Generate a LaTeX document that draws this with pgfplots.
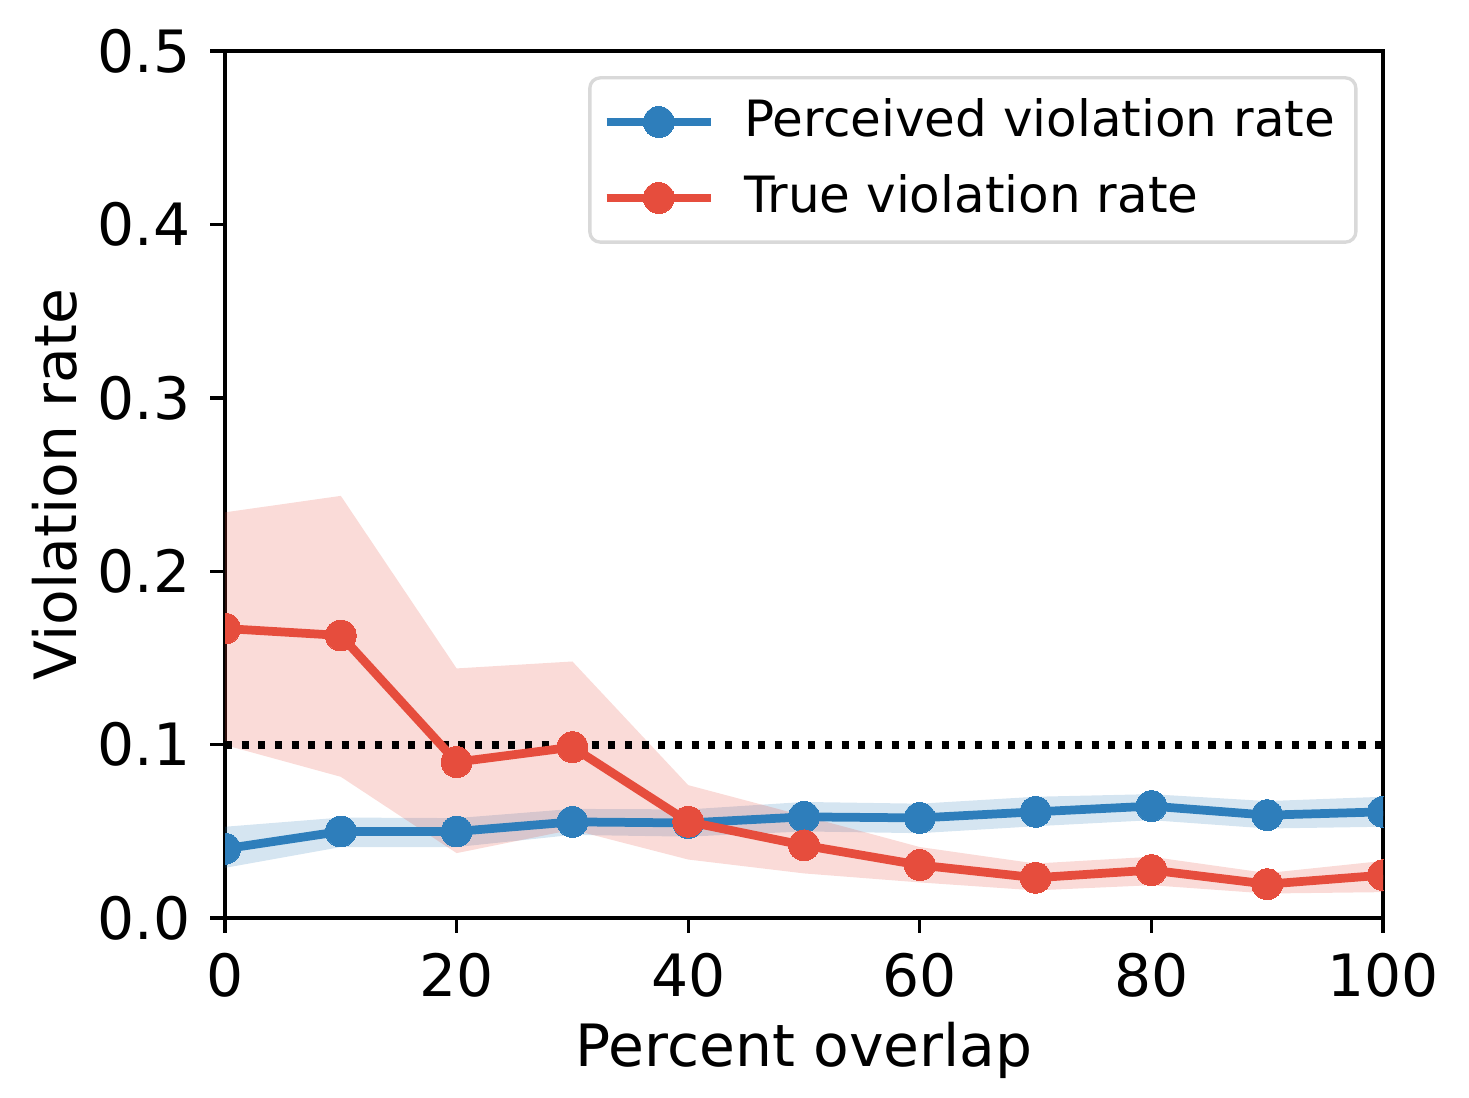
\documentclass[border=0pt]{standalone}
\usepackage{fontspec}
\setmainfont{DejaVu Sans}
\usepackage{pgfplots}
\pgfplotsset{compat=1.18}
\usepgfplotslibrary{fillbetween}
\usetikzlibrary{calc}
\definecolor{cblue}{HTML}{2E7EBB}
\definecolor{cred}{HTML}{E64D3D}
\begin{document}
\fontsize{14}{16}\selectfont
\begin{tikzpicture}
\begin{axis}[
  scale only axis, width=277.9pt, height=208.1pt,
  xmin=0, xmax=100, ymin=0, ymax=0.5,
  xtick={0,20,40,60,80,100}, ytick={0,0.1,0.2,0.3,0.4,0.5},
  yticklabel style={/pgf/number format/.cd, fixed, fixed zerofill, precision=1},
  /pgf/number format/assume math mode=true,
  tick align=outside, major tick length=3.5pt,
  tick style={line width=0.8pt, black},
  axis line style={line width=0.8pt},
  xtick pos=left, ytick pos=left,
  xlabel={Percent overlap}, ylabel={Violation rate},
  xlabel style={at={($(rel axis cs:0.5,0)+(0,-31.7pt)$)}, anchor=center},
  ylabel style={at={($(rel axis cs:0,0.5)+(-40.8pt,0)$)}, anchor=center},
  tick label style={font=\fontsize{14}{16}\selectfont},
  label style={font=\fontsize{14}{16}\selectfont},
  clip marker paths=true,
  legend style={at={(rel axis cs:0.978,0.971)}, anchor=north east,
    draw=black!15, rounded corners=2.5pt, line width=0.8pt,
    inner xsep=3pt, inner ysep=3pt, row sep=3pt, column sep=5pt,
    font=\fontsize{12}{14}\selectfont},
  legend cell align=left,
  legend image code/.code={\draw[mark repeat=2,mark phase=2,#1] plot coordinates {(0pt,0pt) (12.5pt,0pt) (25pt,0pt)};},
]
% bands
\addplot[name path=bu, draw=none, forget plot] coordinates {(0,0.0527)(10,0.058)(20,0.0577)(30,0.063)(40,0.0627)(50,0.067)(60,0.066)(70,0.070)(80,0.0715)(90,0.0675)(100,0.070)};
\addplot[name path=bl, draw=none, forget plot] coordinates {(0,0.029)(10,0.041)(20,0.041)(30,0.048)(40,0.047)(50,0.050)(60,0.049)(70,0.053)(80,0.0565)(90,0.0517)(100,0.0527)};
\addplot[cblue, fill opacity=0.2, draw=none, forget plot] fill between[of=bu and bl];
\addplot[name path=ru, draw=none, forget plot] coordinates {(0,0.234)(10,0.2435)(20,0.144)(30,0.148)(40,0.0767)(50,0.059)(60,0.041)(70,0.0315)(80,0.0354)(90,0.026)(100,0.033)};
\addplot[name path=rl, draw=none, forget plot] coordinates {(0,0.0998)(10,0.0815)(20,0.0375)(30,0.051)(40,0.0338)(50,0.0258)(60,0.0206)(70,0.016)(80,0.019)(90,0.0142)(100,0.015)};
\addplot[cred, fill opacity=0.2, draw=none, forget plot] fill between[of=ru and rl];
% threshold
\addplot[black, line width=1.9pt, dash pattern=on 1.7pt off 2.3pt, forget plot] coordinates {(0,0.1)(100,0.1)};
% lines
\addplot[cblue, line width=2.1pt, mark=*, mark size=3.7pt, mark options={solid, fill=cblue, draw=cblue, line width=0pt}] coordinates {(0,0.040)(10,0.050)(20,0.050)(30,0.0555)(40,0.0549)(50,0.0584)(60,0.0578)(70,0.0613)(80,0.0646)(90,0.0594)(100,0.0613)};
\addlegendentry{Perceived violation rate}
\addplot[cred, line width=2.1pt, mark=*, mark size=3.7pt, mark options={solid, fill=cred, draw=cred, line width=0pt}] coordinates {(0,0.167)(10,0.163)(20,0.090)(30,0.0986)(40,0.0556)(50,0.042)(60,0.0306)(70,0.0233)(80,0.0277)(90,0.0196)(100,0.0248)};
\addlegendentry{True violation rate}
\coordinate (bl0) at (rel axis cs:0,0);
\coordinate (tr0) at (rel axis cs:1,1);
\end{axis}
\path (bl0) ++(-54pt,-38.64pt) (tr0) ++(20.64pt,12.24pt);
\end{tikzpicture}
\end{document}
